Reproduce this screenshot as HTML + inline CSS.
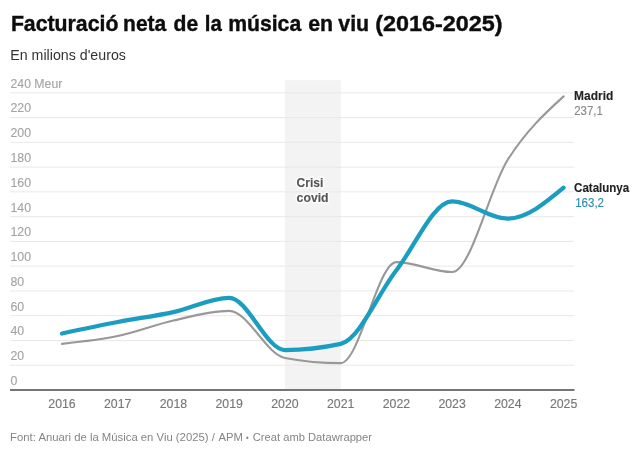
<!DOCTYPE html>
<html lang="ca"><head><meta charset="utf-8"><title>Facturació neta de la música en viu (2016-2025)</title>
<style>
html,body{margin:0;padding:0;background:#fff;}
svg{display:block;}
text{font-family:"Liberation Sans",Arial,sans-serif;}
.b{font-weight:700;}
.ax{font-size:12px;fill:#a3a3a3;stroke:#a3a3a3;stroke-width:.1px;}
.xl{font-size:12px;fill:#787878;stroke:#787878;stroke-width:.15px;}
</style></head><body>
<svg width="640" height="455" viewBox="0 0 640 455">
<rect width="640" height="455" fill="#fff"/>
<text class="b" y="30.9" font-size="22.5" fill="#0d0d0d" stroke="#0d0d0d" stroke-width="0.4"><tspan x="10.89" textLength="107.53" lengthAdjust="spacingAndGlyphs">Facturació</tspan> <tspan x="123.06" textLength="43.19" lengthAdjust="spacingAndGlyphs">neta</tspan> <tspan x="173.50" textLength="24.64" lengthAdjust="spacingAndGlyphs">de</tspan> <tspan x="204.84" textLength="17.00" lengthAdjust="spacingAndGlyphs">la</tspan> <tspan x="228.20" textLength="73.00" lengthAdjust="spacingAndGlyphs">música</tspan> <tspan x="308.14" textLength="24.88" lengthAdjust="spacingAndGlyphs">en</tspan> <tspan x="338.34" textLength="30.79" lengthAdjust="spacingAndGlyphs">viu</tspan> <tspan x="375.17" textLength="127.46" lengthAdjust="spacingAndGlyphs">(2016-2025)</tspan></text>
<text x="10.3" y="59.65" font-size="14.2" fill="#333" textLength="115.6" lengthAdjust="spacingAndGlyphs">En milions d'euros</text>
<rect x="285" y="80.2" width="55.8" height="309.3" fill="#f3f3f3"/>
<line x1="10" x2="574.2" y1="365.23" y2="365.23" stroke="#e8e8e8" stroke-width="1"/>
<line x1="10" x2="574.2" y1="340.47" y2="340.47" stroke="#e8e8e8" stroke-width="1"/>
<line x1="10" x2="574.2" y1="315.70" y2="315.70" stroke="#e8e8e8" stroke-width="1"/>
<line x1="10" x2="574.2" y1="290.93" y2="290.93" stroke="#e8e8e8" stroke-width="1"/>
<line x1="10" x2="574.2" y1="266.17" y2="266.17" stroke="#e8e8e8" stroke-width="1"/>
<line x1="10" x2="574.2" y1="241.40" y2="241.40" stroke="#e8e8e8" stroke-width="1"/>
<line x1="10" x2="574.2" y1="216.63" y2="216.63" stroke="#e8e8e8" stroke-width="1"/>
<line x1="10" x2="574.2" y1="191.87" y2="191.87" stroke="#e8e8e8" stroke-width="1"/>
<line x1="10" x2="574.2" y1="167.10" y2="167.10" stroke="#e8e8e8" stroke-width="1"/>
<line x1="10" x2="574.2" y1="142.33" y2="142.33" stroke="#e8e8e8" stroke-width="1"/>
<line x1="10" x2="574.2" y1="117.57" y2="117.57" stroke="#e8e8e8" stroke-width="1"/>
<line x1="10" x2="574.2" y1="92.80" y2="92.80" stroke="#e8e8e8" stroke-width="1"/>
<text class="ax" x="10.5" y="384.90" textLength="6.87" lengthAdjust="spacingAndGlyphs">0</text>
<text class="ax" x="10.5" y="360.13" textLength="13.75" lengthAdjust="spacingAndGlyphs">20</text>
<text class="ax" x="10.5" y="335.37" textLength="13.75" lengthAdjust="spacingAndGlyphs">40</text>
<text class="ax" x="10.5" y="310.60" textLength="13.75" lengthAdjust="spacingAndGlyphs">60</text>
<text class="ax" x="10.5" y="285.83" textLength="13.75" lengthAdjust="spacingAndGlyphs">80</text>
<text class="ax" x="10.5" y="261.07" textLength="20.62" lengthAdjust="spacingAndGlyphs">100</text>
<text class="ax" x="10.5" y="236.30" textLength="20.62" lengthAdjust="spacingAndGlyphs">120</text>
<text class="ax" x="10.5" y="211.53" textLength="20.62" lengthAdjust="spacingAndGlyphs">140</text>
<text class="ax" x="10.5" y="186.77" textLength="20.62" lengthAdjust="spacingAndGlyphs">160</text>
<text class="ax" x="10.5" y="162.00" textLength="20.62" lengthAdjust="spacingAndGlyphs">180</text>
<text class="ax" x="10.5" y="137.23" textLength="20.62" lengthAdjust="spacingAndGlyphs">200</text>
<text class="ax" x="10.5" y="112.47" textLength="20.62" lengthAdjust="spacingAndGlyphs">220</text>
<text class="ax" x="10.5" y="87.70" textLength="51.80" lengthAdjust="spacingAndGlyphs">240 Meur</text>
<line x1="10" x2="574.5" y1="389.95" y2="389.95" stroke="#767676" stroke-width="1.9"/>
<text class="xl" x="62.00" y="407.6" text-anchor="middle" textLength="27.4" lengthAdjust="spacingAndGlyphs">2016</text>
<text class="xl" x="117.73" y="407.6" text-anchor="middle" textLength="27.4" lengthAdjust="spacingAndGlyphs">2017</text>
<text class="xl" x="173.47" y="407.6" text-anchor="middle" textLength="27.4" lengthAdjust="spacingAndGlyphs">2018</text>
<text class="xl" x="229.20" y="407.6" text-anchor="middle" textLength="27.4" lengthAdjust="spacingAndGlyphs">2019</text>
<text class="xl" x="284.93" y="407.6" text-anchor="middle" textLength="27.4" lengthAdjust="spacingAndGlyphs">2020</text>
<text class="xl" x="340.67" y="407.6" text-anchor="middle" textLength="27.4" lengthAdjust="spacingAndGlyphs">2021</text>
<text class="xl" x="396.40" y="407.6" text-anchor="middle" textLength="27.4" lengthAdjust="spacingAndGlyphs">2022</text>
<text class="xl" x="452.13" y="407.6" text-anchor="middle" textLength="27.4" lengthAdjust="spacingAndGlyphs">2023</text>
<text class="xl" x="507.87" y="407.6" text-anchor="middle" textLength="27.4" lengthAdjust="spacingAndGlyphs">2024</text>
<text class="xl" x="563.60" y="407.6" text-anchor="middle" textLength="27.4" lengthAdjust="spacingAndGlyphs">2025</text>
<text class="b" x="296.60" y="186.80" font-size="12" textLength="26.80" lengthAdjust="spacingAndGlyphs" fill="none" stroke="#fff" stroke-width="3.2" stroke-opacity="0.7" stroke-linejoin="round">Crisi</text>
<text class="b" x="296.60" y="186.80" font-size="12" textLength="26.80" lengthAdjust="spacingAndGlyphs" fill="#555" stroke="#555" stroke-width="0.12">Crisi</text>
<text class="b" x="296.60" y="202.40" font-size="12" textLength="32.00" lengthAdjust="spacingAndGlyphs" fill="none" stroke="#fff" stroke-width="3.2" stroke-opacity="0.7" stroke-linejoin="round">covid</text>
<text class="b" x="296.60" y="202.40" font-size="12" textLength="32.00" lengthAdjust="spacingAndGlyphs" fill="#555" stroke="#555" stroke-width="0.12">covid</text>
<path d="M62.00,343.88C80.58,341.94,99.16,339.99,117.73,336.09C136.31,332.20,154.89,324.72,173.47,320.52C192.04,316.31,210.62,310.87,229.20,310.87C247.78,310.87,266.36,354.51,284.93,357.98C303.51,361.44,322.09,363.17,340.67,363.17C359.24,363.17,377.82,262.17,396.40,262.17C414.98,262.17,433.56,272.06,452.13,272.06C470.71,272.06,489.29,188.84,507.87,159.56C526.44,130.28,545.02,113.33,563.60,96.39" fill="none" stroke="#989898" stroke-width="2.1" stroke-linecap="round" stroke-linejoin="round"/>
<path d="M62.00,333.50C80.58,329.53,99.16,325.57,117.73,322.00C136.31,318.44,154.89,316.13,173.47,312.11C192.04,308.09,210.62,297.89,229.20,297.89C247.78,297.89,266.36,350.06,284.93,350.06C303.51,350.06,322.09,348.00,340.67,343.88C359.24,339.76,377.82,293.94,396.40,270.20C414.98,246.47,433.56,201.47,452.13,201.47C470.71,201.47,489.29,218.65,507.87,218.65C526.44,218.65,545.02,203.20,563.60,187.74" fill="none" stroke="#1b9dc1" stroke-width="4.25" stroke-linecap="round" stroke-linejoin="round"/>
<text class="b" x="574.10" y="99.95" font-size="12" textLength="39.20" lengthAdjust="spacingAndGlyphs" fill="none" stroke="#fff" stroke-width="3.2" stroke-opacity="0.8" stroke-linejoin="round">Madrid</text>
<text class="b" x="574.10" y="99.95" font-size="12" textLength="39.20" lengthAdjust="spacingAndGlyphs" fill="#222" stroke="#222" stroke-width="0.12">Madrid</text>
<text x="574.20" y="114.60" font-size="12" textLength="28.60" lengthAdjust="spacingAndGlyphs" fill="none" stroke="#fff" stroke-width="3.2" stroke-opacity="0.8" stroke-linejoin="round">237,1</text>
<text x="574.20" y="114.60" font-size="12" textLength="28.60" lengthAdjust="spacingAndGlyphs" fill="#8a8a8a" stroke="#8a8a8a" stroke-width="0.15">237,1</text>
<text class="b" x="574.10" y="191.80" font-size="12" textLength="55.10" lengthAdjust="spacingAndGlyphs" fill="none" stroke="#fff" stroke-width="3.2" stroke-opacity="0.8" stroke-linejoin="round">Catalunya</text>
<text class="b" x="574.10" y="191.80" font-size="12" textLength="55.10" lengthAdjust="spacingAndGlyphs" fill="#222" stroke="#222" stroke-width="0.12">Catalunya</text>
<text x="575.20" y="206.50" font-size="12" textLength="28.80" lengthAdjust="spacingAndGlyphs" fill="none" stroke="#fff" stroke-width="3.2" stroke-opacity="0.8" stroke-linejoin="round">163,2</text>
<text x="575.20" y="206.50" font-size="12" textLength="28.80" lengthAdjust="spacingAndGlyphs" fill="#2b8db0" stroke="#2b8db0" stroke-width="0.15">163,2</text>
<text y="441.3" font-size="11" fill="#858585"><tspan x="10.10" font-size="11" textLength="204.72" lengthAdjust="spacingAndGlyphs">Font: Anuari de la Música en Viu (2025) /</tspan> <tspan x="218.50" font-size="11" textLength="24.36" lengthAdjust="spacingAndGlyphs">APM</tspan> <tspan x="246.08" font-size="9" textLength="2.66" lengthAdjust="spacingAndGlyphs">•</tspan> <tspan x="252.74" font-size="11" textLength="119.30" lengthAdjust="spacingAndGlyphs">Creat amb Datawrapper</tspan></text>
</svg></body></html>
